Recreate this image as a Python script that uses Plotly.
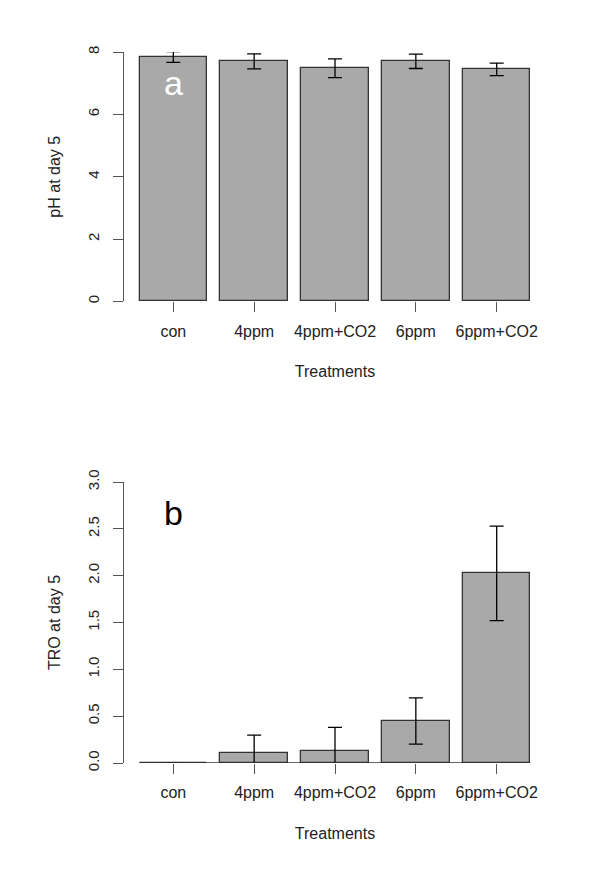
import plotly.graph_objects as go

# treatments on the x axis (R barplot positions: width 1, space 0.2)
treatments = ["con", "4ppm", "4ppm+CO2", "6ppm", "6ppm+CO2"]
bar_pos = [0.7, 1.9, 3.1, 4.3, 5.5]

# panel a: pH at day 5 (mean, error)
ph_mean = [7.84, 7.70, 7.48, 7.70, 7.44]
ph_err = [0.17, 0.24, 0.30, 0.23, 0.20]

# panel b: TRO at day 5 (mean, error)
tro_mean = [0.0, 0.107, 0.128, 0.448, 2.025]
tro_err = [0.0, 0.19, 0.253, 0.247, 0.505]

bar_fill = "#A9A9A9"
line_col = "#333333"
axis_col = "#555555"
font_txt = "Liberation Sans, Arial, sans-serif"

fig = go.Figure()

fig.add_trace(go.Bar(x=bar_pos, y=ph_mean, width=1,
                     marker=dict(color=bar_fill, line=dict(color=line_col, width=1.3)),
                     error_y=dict(type="data", array=ph_err, color="black", thickness=1.3, width=7),
                     xaxis="x", yaxis="y", showlegend=False))

fig.add_trace(go.Bar(x=bar_pos, y=tro_mean, width=1,
                     marker=dict(color=bar_fill, line=dict(color=line_col, width=1.3)),
                     error_y=dict(type="data", array=tro_err, color="black", thickness=1.3, width=7),
                     xaxis="x2", yaxis="y2", showlegend=False))

xcommon = dict(range=[-0.032, 6.232], tickvals=bar_pos, ticktext=treatments,
               ticks="outside", ticklen=10, tickcolor=axis_col, tickwidth=1,
               showline=False, showgrid=False, zeroline=False,
               ticklabelstandoff=5,
               tickfont=dict(size=16, color="#222222", family=font_txt))
ycommon = dict(ticks="outside", ticklen=10, tickcolor=axis_col, tickwidth=1,
               showline=True, linecolor=axis_col, linewidth=1,
               showgrid=False, zeroline=False, tickangle=-90,
               ticklabelstandoff=8,
               tickfont=dict(size=15, color="#222222", family=font_txt))

# the page body adds an 8px margin, so margins are shifted to compensate
fig.update_layout(
    width=616, height=870,
    margin=dict(l=116, r=78, t=44, b=115),
    plot_bgcolor="white", paper_bgcolor="white",
    bargap=0,
    xaxis=dict(xcommon, anchor="y",
               title=dict(text="Treatments", standoff=27,
                          font=dict(size=16, color="#222222", family=font_txt))),
    yaxis=dict(ycommon, domain=[0.6492, 1.0], range=[0, 8], tickvals=[0, 2, 4, 6, 8],
               anchor="x",
               title=dict(text="pH at day 5", standoff=20,
                          font=dict(size=16, color="#222222", family=font_txt))),
    xaxis2=dict(xcommon, anchor="y2",
                title=dict(text="Treatments", standoff=27,
                           font=dict(size=16, color="#222222", family=font_txt))),
    yaxis2=dict(ycommon, domain=[0.0, 0.3952], range=[0, 3],
                tickvals=[0, 0.5, 1, 1.5, 2, 2.5, 3],
                ticktext=["0.0", "0.5", "1.0", "1.5", "2.0", "2.5", "3.0"],
                anchor="x2",
                title=dict(text="TRO at day 5", standoff=20,
                           font=dict(size=16, color="#222222", family=font_txt))),
)

# baseline under the bars in panel b
fig.add_shape(type="line", xref="x2", yref="y2",
              x0=bar_pos[0] - 0.5, x1=bar_pos[-1] + 0.5, y0=0, y1=0,
              line=dict(color=line_col, width=1.3))

# panel letters
fig.add_annotation(x=bar_pos[0], y=7.0, xref="x", yref="y", text="a", showarrow=False,
                   font=dict(size=34, color="white", family=font_txt))
fig.add_annotation(x=bar_pos[0], y=2.67, xref="x2", yref="y2", text="b", showarrow=False,
                   font=dict(size=34, color="black", family=font_txt))

fig.write_html("out.html")
